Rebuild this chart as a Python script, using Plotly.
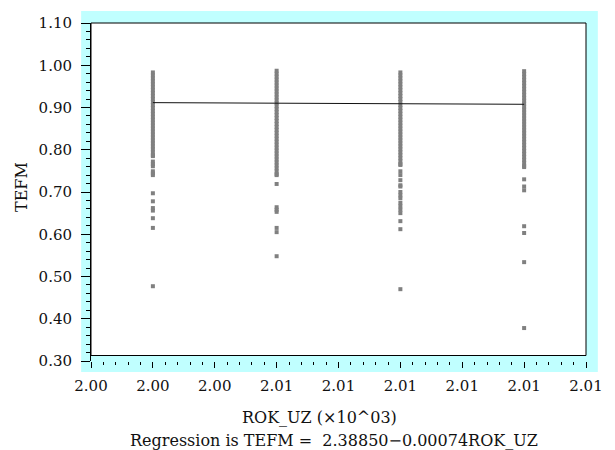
import plotly.graph_objects as go

# ---- data ----
years = [2004, 2006, 2008, 2010]

tefm_2004 = [0.983, 0.976, 0.969, 0.962, 0.955, 0.948, 0.941, 0.934, 0.927, 0.920,
             0.913, 0.906, 0.899, 0.892, 0.885, 0.878, 0.871, 0.864, 0.857, 0.850,
             0.843, 0.836, 0.829, 0.822, 0.815, 0.808, 0.801, 0.794, 0.787, 0.785,
             0.772, 0.766, 0.761, 0.749, 0.744, 0.740, 0.697, 0.678, 0.662, 0.656,
             0.638, 0.615, 0.477]
tefm_2006 = [0.987, 0.980, 0.973, 0.966, 0.959, 0.952, 0.945, 0.938, 0.931, 0.924,
             0.917, 0.910, 0.903, 0.896, 0.889, 0.882, 0.875, 0.868, 0.861, 0.854,
             0.847, 0.840, 0.833, 0.826, 0.819, 0.812, 0.805, 0.798, 0.791, 0.784,
             0.777, 0.770, 0.763, 0.756, 0.749, 0.742, 0.740,
             0.719, 0.664, 0.658, 0.653, 0.615, 0.605, 0.548]
tefm_2008 = [0.983, 0.976, 0.969, 0.962, 0.955, 0.948, 0.941, 0.934, 0.927, 0.920,
             0.913, 0.906, 0.899, 0.892, 0.885, 0.878, 0.871, 0.864, 0.857, 0.850,
             0.843, 0.836, 0.829, 0.822, 0.815, 0.808, 0.801, 0.794, 0.787, 0.780,
             0.773, 0.766, 0.764,
             0.749, 0.740, 0.728, 0.716, 0.713, 0.700, 0.692, 0.685, 0.674, 0.666,
             0.658, 0.650, 0.631, 0.612, 0.470]
tefm_2010 = [0.986, 0.979, 0.972, 0.965, 0.958, 0.951, 0.944, 0.937, 0.930, 0.923,
             0.916, 0.909, 0.902, 0.895, 0.888, 0.881, 0.874, 0.867, 0.860, 0.853,
             0.846, 0.839, 0.832, 0.825, 0.818, 0.811, 0.804, 0.797, 0.790, 0.783,
             0.776, 0.769, 0.762, 0.759,
             0.730, 0.713, 0.704, 0.619, 0.603, 0.534, 0.378]

reg_years = [2004, 2010]
reg_values = [0.9115, 0.9076]

x_tickvals = [2003, 2004, 2005, 2006, 2007, 2008, 2009, 2010, 2011]
x_ticktext = ["2.00", "2.00", "2.00", "2.01", "2.01", "2.01", "2.01", "2.01", "2.01"]
y_tickvals = [0.30, 0.40, 0.50, 0.60, 0.70, 0.80, 0.90, 1.00, 1.10]
y_ticktext = ["0.30", "0.40", "0.50", "0.60", "0.70", "0.80", "0.90", "1.00", "1.10"]

x_title = "ROK_UZ (×10^03)"
reg_title = "Regression is TEFM =  2.38850\u22120.00074ROK_UZ"
y_title = "TEFM"

# ---- figure ----
FONT = "DejaVu Serif"
xs, ys = [], []
for yr, vals in zip(years, [tefm_2004, tefm_2006, tefm_2008, tefm_2010]):
    xs += [yr] * len(vals)
    ys += vals

fig = go.Figure()
fig.add_trace(go.Scatter(x=xs, y=ys, mode="markers",
                         marker=dict(symbol="square", size=4, color="#808080", line=dict(width=0)),
                         showlegend=False, hoverinfo="skip"))
fig.add_trace(go.Scatter(x=reg_years, y=reg_values, mode="lines",
                         line=dict(color="#111111", width=1), showlegend=False, hoverinfo="skip"))

W, H = 615, 450
L, R, T, B = 91, 22, 23, 89
pw, ph = W - L - R, H - T - B

def px(x):
    return (x - L) / pw

def py(y):
    return (H - B - y) / ph

shapes = [
    dict(type="rect", xref="paper", yref="paper", x0=px(81), x1=px(605), y0=py(372), y1=py(11),
         fillcolor="#C0FFFF", line=dict(width=0), layer="below"),
    dict(type="rect", xref="paper", yref="paper", x0=0, x1=1, y0=py(355.5), y1=1,
         fillcolor="white", line=dict(width=0), layer="below"),
    dict(type="rect", xref="paper", yref="paper", x0=0, x1=1, y0=py(355.5), y1=1,
         fillcolor="rgba(0,0,0,0)", line=dict(color="black", width=1), layer="above"),
]

annotations = [
    dict(text=x_title, xref="paper", yref="paper", x=px(323), y=py(417), showarrow=False,
         xanchor="center", yanchor="middle", font=dict(family=FONT, size=16, color="#111")),
    dict(text=reg_title, xref="paper", yref="paper", x=px(337.5), y=py(440), showarrow=False,
         xanchor="center", yanchor="middle", font=dict(family=FONT, size=16, color="#111")),
    dict(text=y_title, xref="paper", yref="paper", x=px(20), y=py(187), showarrow=False,
         textangle=-90, xanchor="center", yanchor="middle", font=dict(family=FONT, size=16, color="#111")),
]

fig.update_layout(
    width=W, height=H, margin=dict(l=L, r=R, t=T, b=B),
    paper_bgcolor="white", plot_bgcolor="white",
    shapes=shapes, annotations=annotations,
    font=dict(family=FONT, size=15, color="#111"),
    xaxis=dict(range=[2003, 2011], tickmode="array", tickvals=x_tickvals, ticktext=x_ticktext,
               showgrid=False, zeroline=False, showline=False,
               ticks="outside", ticklen=6, tickwidth=1, tickcolor="black",
               ticklabelstandoff=5,
               minor=dict(dtick=0.2, tick0=2003, ticks="outside", ticklen=3, tickwidth=1,
                          tickcolor="black", showgrid=False)),
    yaxis=dict(range=[0.30, 1.10], tickmode="array", tickvals=y_tickvals, ticktext=y_ticktext,
               showgrid=False, zeroline=False, showline=True, linecolor="black", linewidth=1,
               ticks="outside", ticklen=9, tickwidth=1, tickcolor="black",
               ticklabelstandoff=6,
               minor=dict(dtick=0.02, tick0=0.30, ticks="outside", ticklen=4, tickwidth=1,
                          tickcolor="black", showgrid=False)),
)

fig.write_html("out.html", config={"displayModeBar": False},
               post_script="document.body.style.margin='0';document.body.style.overflow='hidden';")
